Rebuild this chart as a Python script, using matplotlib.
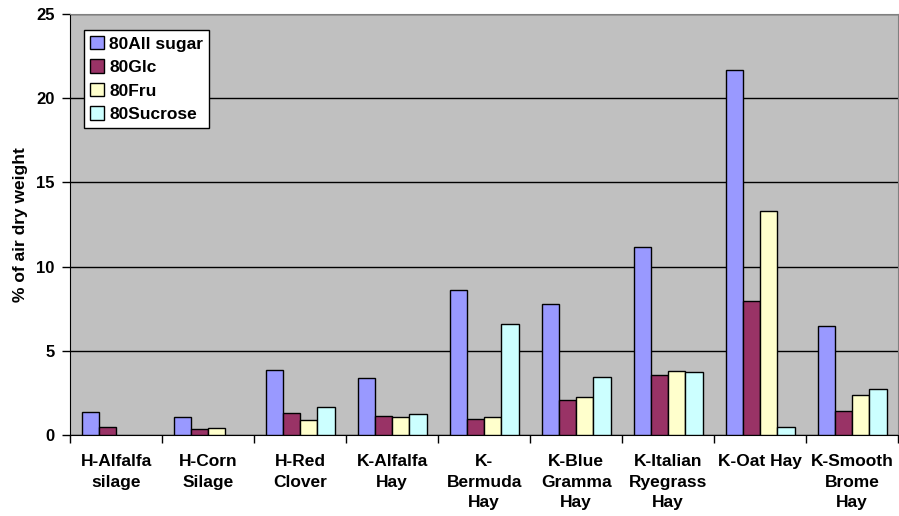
import numpy as np
import matplotlib.pyplot as plt

plt.rcParams['font.family'] = ['Liberation Sans', 'DejaVu Sans']
plt.rcParams['font.weight'] = 'bold'

categories = ['H-Alfalfa\nsilage', 'H-Corn\nSilage', 'H-Red\nClover', 'K-Alfalfa\nHay',
              'K-\nBermuda\nHay', 'K-Blue\nGramma\nHay', 'K-Italian\nRyegrass\nHay',
              'K-Oat Hay', 'K-Smooth\nBrome\nHay']
all_sugar = [1.37, 1.05, 3.86, 3.40, 8.58, 7.75, 11.16, 21.68, 6.50]
glc = [0.49, 0.33, 1.28, 1.13, 0.95, 2.09, 3.54, 7.93, 1.44]
fru = [0, 0.39, 0.87, 1.07, 1.07, 2.23, 3.82, 13.29, 2.37]
sucrose = [0, 0, 1.68, 1.22, 6.59, 3.42, 3.76, 0.49, 2.71]

series = [('80All sugar', all_sugar, '#9999FF'),
          ('80Glc', glc, '#993366'),
          ('80Fru', fru, '#FFFFCC'),
          ('80Sucrose', sucrose, '#CCFFFF')]

fig = plt.figure(figsize=(8.99, 5.16), dpi=100)
ax = fig.add_axes([0.078, 0.157, 0.921, 0.816])
ax.set_facecolor('#C0C0C0')

x = np.arange(len(categories))
w = 0.1875
for i, (name, vals, col) in enumerate(series):
    # zero values are not drawn in the original
    v = np.array(vals, dtype=float)
    mask = v > 0
    ax.bar(x[mask] + (i - 1.5) * w, v[mask], width=w, color=col,
           edgecolor='black', linewidth=1, label=name, zorder=3)

ax.set_xlim(-0.5, len(categories) - 0.5)
ax.set_ylim(0, 25)
ax.set_yticks([0, 5, 10, 15, 20, 25])
ax.yaxis.grid(True, color='black', linewidth=1, zorder=1)
ax.set_axisbelow(True)

ax.set_xticks(np.arange(len(categories) + 1) - 0.5, minor=False)
ax.set_xticklabels([])
ax.set_xticks(x, minor=True)
ax.set_xticklabels(categories, minor=True, fontsize=12.5, fontweight='bold', linespacing=1.45)
ax.tick_params(axis='x', which='minor', length=0, pad=14)
ax.tick_params(axis='x', which='major', length=6, width=1, direction='out')
ax.tick_params(axis='y', length=6, width=1, direction='out', labelsize=12, pad=5)
for lab in ax.get_yticklabels():
    lab.set_fontweight('bold')

ax.set_ylabel('% of air dry weight', fontsize=12.5, fontweight='bold', labelpad=6)

for s in ['top', 'right']:
    ax.spines[s].set_color('#808080')
ax.spines['left'].set_color('black')
ax.spines['bottom'].set_color('black')

leg = ax.legend(loc='upper left', bbox_to_anchor=(0.017, 0.962), fontsize=12.5,
                frameon=True, fancybox=False, edgecolor='black', framealpha=1,
                handlelength=0.8, handleheight=0.8, handletextpad=0.3,
                labelspacing=0.45, borderpad=0.35, borderaxespad=0)
leg.get_frame().set_linewidth(1)
for t in leg.get_texts():
    t.set_fontweight('bold')

fig.savefig('out.png', dpi=100)
